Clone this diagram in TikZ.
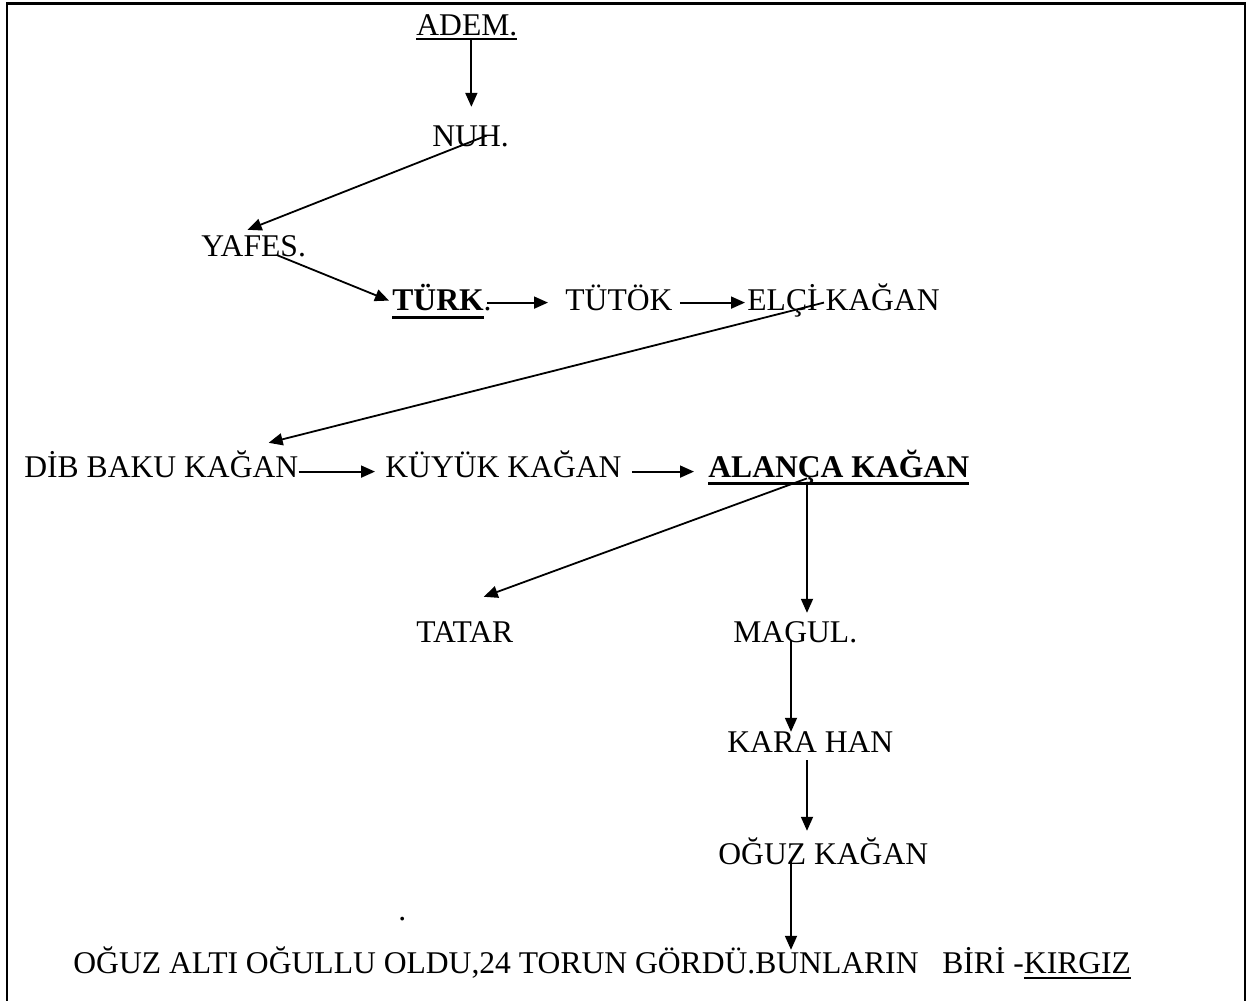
\documentclass[tikz,border=0pt]{standalone}
\usepackage{fontspec}
\setmainfont{Liberation Serif}
\usetikzlibrary{arrows.meta}
\newcommand{\ulin}[3]{\setbox0\hbox{#1}\rlap{\rule[-#2]{\wd0}{#3}}\box0}

\begin{document}
\begin{tikzpicture}[x=0.5pt, y=-0.5pt,
    lbl/.style={font=\fontsize{15.8pt}{19pt}\selectfont, inner sep=0pt,
        anchor=base west, text height=10.4pt, text depth=0pt},
    arr/.style={-{Triangle[length=7pt,width=6pt]}, line width=0.9pt}]
    \useasboundingbox (0,0) rectangle (1249,1001);
    \draw[line width=1.4pt] (7,1001) -- (7,3.5) -- (1245,3.5) -- (1245,1001);

    \node[lbl] (adem) at (416,35) {\ulin{ADEM.}{2.5pt}{0.9pt}};
    \node[lbl] (nuh) at (432,146) {NUH.};
    \node[lbl] (yafes) at (201,256) {YAFES.};
    \node[lbl] (turk) at (392,310) {\ulin{\bfseries TÜRK}{4.25pt}{1.5pt}.};
    \node[lbl] (tutok) at (565,310) {TÜTÖK};
    \node[lbl] (elci) at (747,310) {ELÇİ KAĞAN};
    \node[lbl] (dib) at (24,477) {DİB BAKU KAĞAN};
    \node[lbl] (kuyuk) at (385,477) {KÜYÜK KAĞAN};
    \node[lbl] (alanca) at (708,477) {\ulin{\bfseries ALANÇA KAĞAN}{3.75pt}{1.5pt}};
    \node[lbl] (tatar) at (416,642) {TATAR};
    \node[lbl] (magul) at (733,642) {MAGUL.};
    \node[lbl] (kara) at (727,752) {KARA HAN};
    \node[lbl] (oguz) at (718,864) {OĞUZ KAĞAN};
    \node[lbl] (stray) at (398,920) {.};
    \node[lbl] (note) at (73,973) {OĞUZ ALTI OĞULLU OLDU,24 TORUN GÖRDÜ.BUNLARIN\ \ \ BİRİ -\ulin{KIRGIZ}{2.9pt}{0.9pt}};

    \draw[arr] ([shift={(4.5,4)}]adem.south) -- ([shift={(4.5,-18)}]adem.south |- nuh.north);
    \draw[arr] ([shift={(16,0)}]nuh.center) -- ([shift={(-6,-5)}]yafes.north);
    \draw[arr] ([shift={(24,-1)}]yafes.south) -- ([shift={(-3,1)}]turk.west);
    \draw[arr] ([shift={(-5,3)}]turk.east) -- ([shift={(-17,3)}]tutok.west);
    \draw[arr] ([shift={(7,3)}]tutok.east) -- ([shift={(-2,3)}]elci.west);
    \draw[arr] ([shift={(77,3)}]elci.west) -- ([shift={(-30,-13)}]dib.north east);
    \draw[arr] ([shift={(0,5)}]dib.east) -- ([shift={(-10,5)}]kuyuk.west);
    \draw[arr] ([shift={(10,5)}]kuyuk.east) -- ([shift={(-14,5)}]alanca.west);
    \draw[arr] ([shift={(99,1)}]alanca.south west) -- ([shift={(19,-24)}]tatar.north);
    \draw[arr] ([shift={(99,5)}]alanca.south west) -- ([shift={(99,-8)}]alanca.south west |- magul.north);
    \draw[arr] ([shift={(58,-2)}]magul.south west) -- ([shift={(58,1)}]magul.south west |- kara.north);
    \draw[arr] ([shift={(80,8)}]kara.south west) -- ([shift={(80,-12)}]kara.south west |- oguz.north);
    \draw[arr] ([shift={(73,-4)}]oguz.south west) -- ([shift={(73,-2)}]oguz.south west |- note.north);
\end{tikzpicture}
\end{document}
